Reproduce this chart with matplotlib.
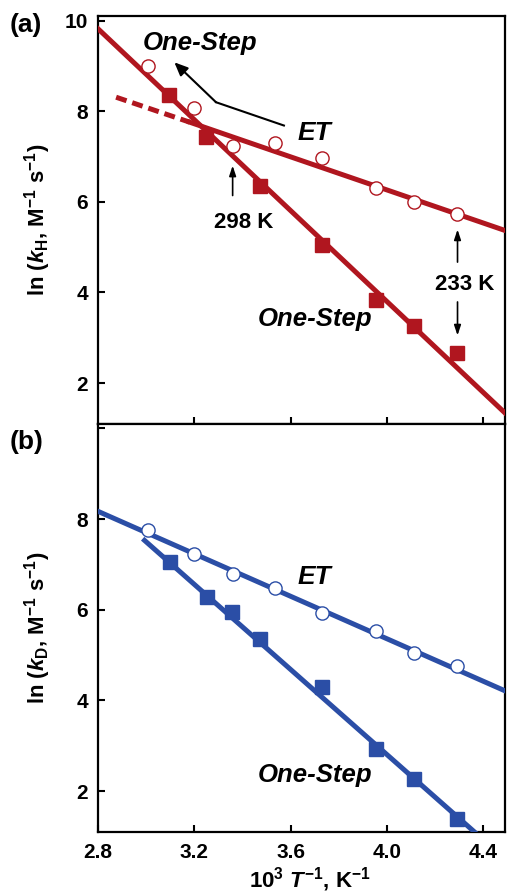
import numpy as np
import matplotlib
matplotlib.use('Agg')
import matplotlib.pyplot as plt

plt.rcParams['font.family'] = 'Liberation Sans'
plt.rcParams['font.weight'] = 'bold'
plt.rcParams['axes.labelweight'] = 'bold'
plt.rcParams['mathtext.fontset'] = 'custom'
plt.rcParams['mathtext.rm'] = 'Liberation Sans:bold'
plt.rcParams['mathtext.it'] = 'Liberation Sans:bold:italic'
plt.rcParams['mathtext.bf'] = 'Liberation Sans:bold'
plt.rcParams['mathtext.default'] = 'regular'

red = '#b0161f'
blue = '#2b4ea6'

# (a) kH data, 10^3/T
xH_et = [3.007, 3.197, 3.359, 3.535, 3.732, 3.953, 4.112, 4.292]
yH_et = [8.99, 8.07, 7.23, 7.29, 6.96, 6.31, 5.99, 5.74]
xH_os = [3.096, 3.249, 3.474, 3.732, 3.953, 4.112, 4.289]
yH_os = [8.36, 7.44, 6.34, 5.04, 3.84, 3.27, 2.66]

# fitted lines (end points)
fitH_os_x = [2.8, 4.5]
fitH_os_y = [9.82, 1.29]
fitH_et_x = [3.18, 4.5]
fitH_et_y = [7.76, 5.35]
fitH_etdash_x = [2.875, 3.18]
fitH_etdash_y = [8.31, 7.76]

# (b) kD data
xD_et = [3.007, 3.197, 3.359, 3.535, 3.732, 3.953, 4.112, 4.292]
yD_et = [7.75, 7.24, 6.78, 6.49, 5.92, 5.54, 5.05, 4.76]
xD_os = [3.10, 3.253, 3.355, 3.474, 3.732, 3.953, 4.112, 4.292]
yD_os = [7.05, 6.28, 5.96, 5.35, 4.29, 2.92, 2.27, 1.39]

fitD_et_x = [2.8, 4.5]
fitD_et_y = [8.17, 4.19]
fitD_os_x = [2.993, 4.40]
fitD_os_y = [7.53, 0.93]

fig = plt.figure(figsize=(5.08, 8.96), dpi=100)
ax1 = fig.add_axes([0.193, 0.527, 0.801, 0.455])
ax2 = fig.add_axes([0.193, 0.0714, 0.801, 0.4556])

for ax in (ax1, ax2):
    ax.set_xlim(2.8, 4.49)
    ax.set_ylim(1.1, 10.1)
    ax.set_xticks([3.2, 3.6, 4.0, 4.4])
    ax.set_yticks([2, 4, 6, 8, 10])
    ax.tick_params(direction='in', length=5, width=1.5, labelsize=15, pad=7)
    for s in ax.spines.values():
        s.set_linewidth(1.6)

ax1.set_xticklabels([])
ax2.set_yticks([2, 4, 6, 8, 10], ['2', '4', '6', '8', ''])
ax2.set_xticks([2.8, 3.2, 3.6, 4.0, 4.4], ['2.8', '3.2', '3.6', '4.0', '4.4'])
ax2.tick_params(axis='x', pad=8)

# panel (a)
ax1.plot(xH_os, yH_os, 's', color=red, ms=9.5, zorder=2)
ax1.plot(fitH_os_x, fitH_os_y, '-', color=red, lw=3.6, zorder=3)
ax1.plot(fitH_et_x, fitH_et_y, '-', color=red, lw=3.6, zorder=3)
ax1.plot(fitH_etdash_x, fitH_etdash_y, '--', color=red, lw=3.6, dashes=(2.2, 1.2), zorder=3)
ax1.plot(xH_et, yH_et, 'o', mfc='white', mec=red, mew=1.0, ms=9.5, zorder=4)

ax1.plot([3.572, 3.290], [7.685, 8.199], color='k', lw=1.5)
ax1.annotate('', xy=(3.117, 9.08), xytext=(3.290, 8.199),
             arrowprops=dict(arrowstyle='-|>,head_length=0.8,head_width=0.35', color='k', lw=1.5,
                             shrinkA=0, shrinkB=0))
ax1.annotate('', xy=(3.359, 6.80), xytext=(3.359, 6.14),
             arrowprops=dict(arrowstyle='-|>,head_length=0.6,head_width=0.2', color='k', lw=1.2,
                             shrinkA=0, shrinkB=0))
ax1.annotate('', xy=(4.293, 5.39), xytext=(4.293, 4.67),
             arrowprops=dict(arrowstyle='-|>,head_length=0.6,head_width=0.2', color='k', lw=1.2,
                             shrinkA=0, shrinkB=0))
ax1.annotate('', xy=(4.293, 3.05), xytext=(4.293, 3.79),
             arrowprops=dict(arrowstyle='-|>,head_length=0.6,head_width=0.2', color='k', lw=1.2,
                             shrinkA=0, shrinkB=0))

ax1.text(2.986, 9.36, 'One-Step', fontsize=18.5, style='italic', ha='left', va='baseline')
ax1.text(3.629, 7.37, 'ET', fontsize=19, style='italic', ha='left', va='baseline')
ax1.text(3.463, 3.27, 'One-Step', fontsize=18.5, style='italic', ha='left', va='baseline')
ax1.text(3.283, 5.42, '298 K', fontsize=16, ha='left', va='baseline')
ax1.text(4.198, 4.06, '233 K', fontsize=16, ha='left', va='baseline')

ax1.set_ylabel(r'ln ($\mathit{k}_{H}$, M$^{-1}$ s$^{-1}$)', fontsize=16)
ax1.yaxis.set_label_coords(-0.11, 0.5)

# panel (b)
ax2.plot(xD_os, yD_os, 's', color=blue, ms=9.5, zorder=2)
ax2.plot(fitD_os_x, fitD_os_y, '-', color=blue, lw=3.6, zorder=3)
ax2.plot(fitD_et_x, fitD_et_y, '-', color=blue, lw=3.6, zorder=3)
ax2.plot(xD_et, yD_et, 'o', mfc='white', mec=blue, mew=1.0, ms=9.5, zorder=4)

ax2.text(3.629, 6.575, 'ET', fontsize=19, style='italic', ha='left', va='baseline')
ax2.text(3.463, 2.21, 'One-Step', fontsize=18.5, style='italic', ha='left', va='baseline')

ax2.set_ylabel(r'ln ($\mathit{k}_{D}$, M$^{-1}$ s$^{-1}$)', fontsize=16)
ax2.yaxis.set_label_coords(-0.11, 0.5)
ax2.set_xlabel(r'10$^{3}$ $\mathit{T}^{-1}$, K$^{-1}$', fontsize=16)
ax2.xaxis.set_label_coords(0.52, -0.082)

fig.text(0.018, 0.972, '(a)', fontsize=19, va='center', ha='left')
fig.text(0.018, 0.507, '(b)', fontsize=19, va='center', ha='left')

fig.savefig('out.png', dpi=100)
